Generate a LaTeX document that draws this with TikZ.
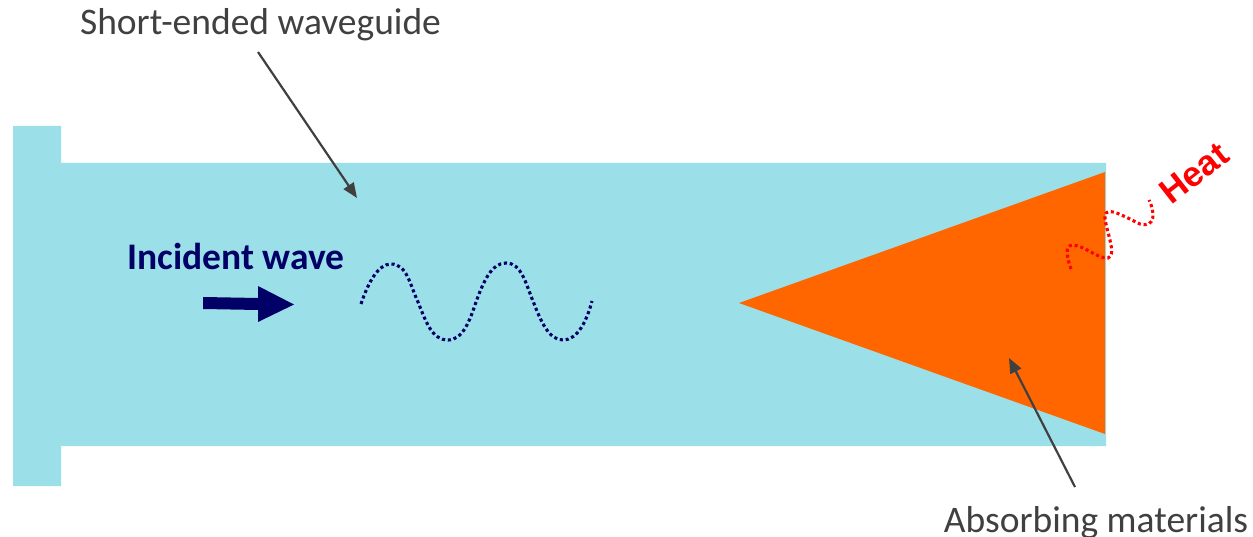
\documentclass[tikz,border=0pt]{standalone}
\usepackage{fontspec}
\setmainfont{Carlito}
\newfontfamily\heatfont{Liberation Sans}
\usetikzlibrary{arrows.meta}
\definecolor{guide}{HTML}{9BE0E9}
\definecolor{absorb}{HTML}{FF6600}
\definecolor{navy}{HTML}{000066}
\definecolor{labelgrey}{HTML}{404040}
\tikzset{
  callout/.style={draw=labelgrey,line width=2.2pt,-{Triangle[length=15pt,width=12pt]}},
  label/.style={text=labelgrey,font=\fontsize{37.5}{40}\selectfont,inner sep=0pt,anchor=base},
  dotwave/.style={line width=3.1pt,dash pattern=on 3.1pt off 2.8pt}
}
\begin{document}
\begin{tikzpicture}[x=1pt,y=-1pt]
\useasboundingbox (0,0) rectangle (1253,537);
\fill[guide] (13,126) -- (61,126) -- (61,163) -- (1106,163) -- (1106,446) -- (61,446) -- (61,486) -- (13,486) -- cycle;
\fill[absorb] (739,303) -- (1105,172) -- (1105,434) -- cycle;
\node[label] (waveguide) at (260.5,35) {Short-ended waveguide};
\node[label] (materials) at (1096,532) {Absorbing materials};
\coordinate (waveguideStart) at (258,52);
\coordinate (waveguideEnd) at (357,198);
\coordinate (materialsStart) at (1075,487);
\coordinate (materialsEnd) at (1009,358);
\draw[callout] (waveguideStart) -- (waveguideEnd);
\draw[callout] (materialsStart) -- (materialsEnd);
\node[text=navy,font=\fontsize{37.5}{40}\selectfont\bfseries,inner sep=0pt,anchor=base] (incident) at (236,270) {Incident wave};
\fill[navy] (203,297) -- (258,298) -- (258,286) -- (294,304.5) -- (258,322) -- (258,310) -- (203,309) -- cycle;
\draw[navy,dotwave] (361,304) .. controls (368,283) and (378,264) .. (391,264)
  .. controls (407,264) and (410,285) .. (418,302)
  .. controls (426,322) and (432,340) .. (448,340)
  .. controls (463,340) and (470,320) .. (476,302)
  .. controls (483,283) and (491,263) .. (506,263)
  .. controls (522,263) and (526,285) .. (533,301)
  .. controls (541,322) and (549,340) .. (563,340)
  .. controls (578,340) and (587,320) .. (592,301);
\draw[red,dotwave] (1071,269) .. controls (1067,258) and (1064,245) .. (1073,245)
  .. controls (1085,246) and (1098,259) .. (1108,258)
  .. controls (1118,256) and (1104,225) .. (1105,216)
  .. controls (1106,205) and (1125,217) .. (1140,224)
  .. controls (1156,228) and (1155,212) .. (1149,200);
\node[text=red,font=\fontsize{35}{38}\selectfont\bfseries\heatfont,rotate=38,inner sep=0pt] (heat) at (1194,173) {Heat};
\end{tikzpicture}
\end{document}
